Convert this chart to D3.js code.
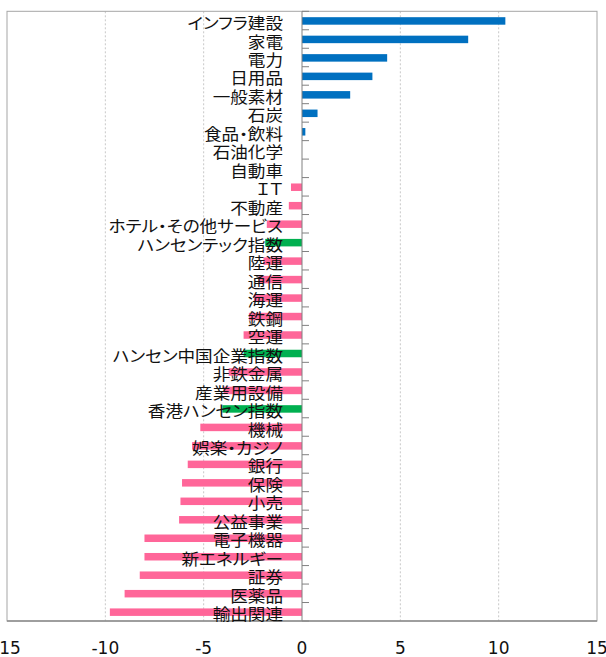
<!DOCTYPE html>
<html>
<head>
<meta charset="utf-8">
<script src="https://cdn.jsdelivr.net/npm/d3@7"></script>
<style>
  body { margin: 0; background: #fff; }
</style>
</head>
<body>
<svg width="606" height="657"></svg>
<script>
const categories = ["インフラ建設", "家電", "電力", "日用品", "一般素材", "石炭", "食品・飲料",
  "石油化学", "自動車", "ＩＴ", "不動産", "ホテル・その他サービス", "ハンセンテック指数",
  "陸運", "通信", "海運", "鉄鋼", "空運", "ハンセン中国企業指数", "非鉄金属", "産業用設備",
  "香港ハンセン指数", "機械", "娯楽・カジノ", "銀行", "保険", "小売", "公益事業",
  "電子機器", "新エネルギー", "証券", "医薬品", "輸出関連"];
const values = [10.34, 8.45, 4.33, 3.58, 2.45, 0.79, 0.17,
  0, 0, -0.56, -0.67, -1.79, -1.87,
  -1.96, -2.2, -2.45, -2.7, -2.97, -2.97, -3.73, -3.99,
  -4.05, -5.17, -5.59, -5.81, -6.1, -6.18, -6.25,
  -8.01, -8.01, -8.25, -9.02, -9.77];
const indexNames = ["ハンセンテック指数", "ハンセン中国企業指数", "香港ハンセン指数"];
const xTicks = [-15, -10, -5, 0, 5, 10, 15];

const svg = d3.select("svg");
const plotL = 7, plotR = 597, plotT = 11.3, plotB = 621;

const x = d3.scaleLinear().domain([-15, 15]).range([plotL, plotR]);
const y = d3.scaleBand().domain(categories).range([plotT, plotB]).padding(0);
const bh = 7.5;

const data = categories.map((c, i) => ({ name: c, value: values[i] }));

// vertical gridlines
svg.append("g")
  .selectAll("line")
  .data(xTicks.filter(t => t !== 0 && Math.abs(t) !== 15))
  .join("line")
  .attr("x1", d => x(d)).attr("x2", d => x(d))
  .attr("y1", plotT).attr("y2", plotB)
  .attr("stroke", "#c8c8c8")
  .attr("stroke-dasharray", "2,2");

// frame
svg.append("rect")
  .attr("x", plotL).attr("y", plotT)
  .attr("width", plotR - plotL).attr("height", plotB - plotT)
  .attr("fill", "none")
  .attr("stroke", "#a6a6a6");

// bars
svg.append("g")
  .selectAll("rect")
  .data(data)
  .join("rect")
  .attr("x", d => x(Math.min(0, d.value)))
  .attr("width", d => Math.abs(x(d.value) - x(0)))
  .attr("y", d => y(d.name) + (y.bandwidth() - bh) / 2 + 0.4)
  .attr("height", bh)
  .attr("fill", d => indexNames.includes(d.name) ? "#00b050" : (d.value >= 0 ? "#0070c0" : "#ff6699"));

// zero axis with category ticks
svg.append("line")
  .attr("x1", x(0)).attr("x2", x(0))
  .attr("y1", plotT).attr("y2", plotB)
  .attr("stroke", "#808080");
svg.append("g")
  .selectAll("line")
  .data(d3.range(categories.length + 1))
  .join("line")
  .attr("x1", x(0)).attr("x2", x(0) + 7)
  .attr("y1", i => plotT + i * y.step()).attr("y2", i => plotT + i * y.step())
  .attr("stroke", "#808080");

// bottom axis line
svg.append("line")
  .attr("x1", plotL).attr("x2", plotR)
  .attr("y1", plotB).attr("y2", plotB)
  .attr("stroke", "#8c8c8c")
  .attr("stroke-width", 1.5);

// category labels (drawn over the bars, slightly widened like the original)
svg.append("g")
  .selectAll("text")
  .data(data)
  .join("text")
  .attr("transform", d => `translate(${x(0) - 19},${y(d.name) + y.bandwidth() / 2 + 8.5}) scale(1.1,1)`)
  .attr("text-anchor", "end")
  .attr("font-family", "'Noto Sans CJK JP', sans-serif")
  .attr("font-size", 16)
  .style("font-feature-settings", "'palt'")
  .attr("fill", "#111")
  .text(d => d.name);

// x tick labels
svg.append("g")
  .selectAll("text")
  .data(xTicks)
  .join("text")
  .attr("x", d => x(d))
  .attr("y", 654)
  .attr("text-anchor", "middle")
  .attr("font-family", "'DejaVu Sans', sans-serif")
  .attr("font-size", 17)
  .attr("fill", "#111")
  .text(d => d);
</script>
</body>
</html>
